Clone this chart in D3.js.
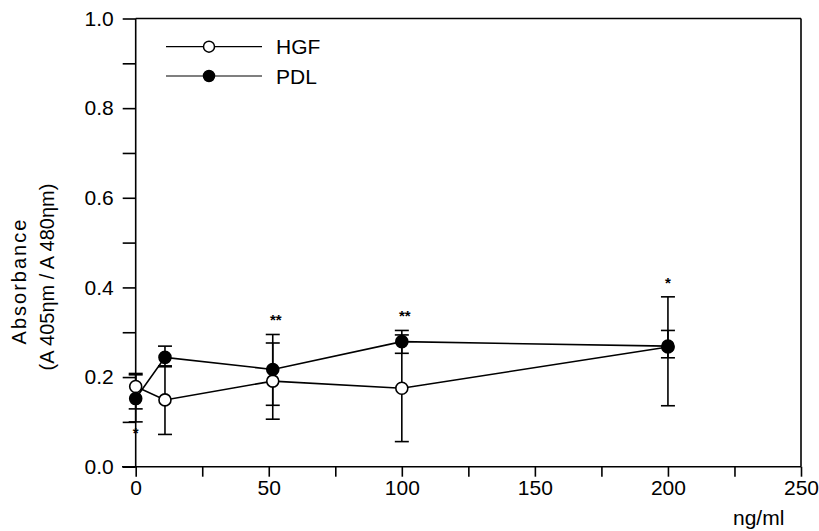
<!DOCTYPE html>
<html>
<head>
<meta charset="utf-8">
<script src="https://cdn.jsdelivr.net/npm/d3@7"></script>
<style>
  html, body { margin: 0; padding: 0; background: #fff; }
  svg { display: block; font-family: "Liberation Sans", Arial, Helvetica, sans-serif; }
</style>
</head>
<body>
<svg id="chart" width="819" height="531"></svg>
<script>
// ---- data ----
const doses    = [0, 11, 51.5, 100, 200];
const hgf      = [0.179, 0.149, 0.191, 0.175, 0.267];
const hgfLow   = [0.129, 0.072, 0.106, 0.056, 0.136];
const hgfHigh  = [0.208, 0.225, 0.276, 0.294, 0.379];
const pdl      = [0.152, 0.244, 0.217, 0.279, 0.269];
const pdlLow   = [0.100, 0.223, 0.137, 0.253, 0.243];
const pdlHigh  = [0.205, 0.269, 0.295, 0.304, 0.304];
const sigMarks = ["*", "", "**", "**", "*"];
const sigSide  = ["below", "", "above", "above", "above"];
const xTicks   = [0, 25, 50, 75, 100, 125, 150, 175, 200, 225, 250];
const xLabels  = [0, 50, 100, 150, 200, 250];
const yTicks   = [0, 0.1, 0.2, 0.3, 0.4, 0.5, 0.6, 0.7, 0.8, 0.9, 1.0];
const yLabels  = [0, 0.2, 0.4, 0.6, 0.8, 1.0];
const seriesNames = ["HGF", "PDL"];

const svg = d3.select("#chart");
const x = d3.scaleLinear().domain([0, 250]).range([135.7, 801]);
const y = d3.scaleLinear().domain([0, 1]).range([466.7, 18.5]);
const ink = "#000";
const font = "Liberation Sans, Arial, sans-serif";

// frame (top & right)
svg.append("line").attr("x1", x(0)).attr("x2", x(250)).attr("y1", y(1)).attr("y2", y(1))
  .attr("stroke", ink).attr("stroke-width", 1.6);
svg.append("line").attr("x1", x(250)).attr("x2", x(250)).attr("y1", y(1)).attr("y2", y(0))
  .attr("stroke", ink).attr("stroke-width", 1.6);

// x axis
const xAxis = d3.axisBottom(x).tickValues(xTicks).tickSize(10).tickPadding(3)
  .tickFormat(d => xLabels.includes(d) ? d3.format("d")(d) : "");
const gx = svg.append("g").attr("transform", `translate(0,${y(0)})`).call(xAxis);
gx.select(".domain").remove();
gx.append("line").attr("x1", 122).attr("x2", x(250)).attr("y1", 0).attr("y2", 0)
  .attr("stroke", ink).attr("stroke-width", 1.6);
gx.selectAll(".tick line").attr("stroke", ink).attr("stroke-width", 1.6);
gx.selectAll(".tick text").attr("fill", ink).style("font-size", "21px").style("font-family", font);

// y axis
const yAxis = d3.axisLeft(y).tickValues(yTicks).tickSize(13).tickPadding(9)
  .tickFormat(d => yLabels.some(v => Math.abs(v - d) < 1e-9) ? d3.format(".1f")(d) : "");
const gy = svg.append("g").attr("transform", `translate(${x(0)},0)`).call(yAxis);
gy.select(".domain").remove();
gy.append("line").attr("x1", 0).attr("x2", 0).attr("y1", y(1)).attr("y2", y(0))
  .attr("stroke", ink).attr("stroke-width", 1.6);
gy.selectAll(".tick line").attr("stroke", ink).attr("stroke-width", 1.6);
gy.selectAll(".tick text").attr("fill", ink).style("font-size", "21px").style("font-family", font);

// axis titles
svg.append("text").attr("transform", "translate(26,281) rotate(-90)")
  .attr("text-anchor", "middle").style("font-size", "20px").style("letter-spacing", "2px")
  .text("Absorbance");
svg.append("text").attr("transform", "translate(54,277) rotate(-90)")
  .attr("text-anchor", "middle").style("font-size", "20px").text("(A 405ηm / A 480ηm)");
svg.append("text").attr("x", 733).attr("y", 525).style("font-size", "21px").text("ng/ml");

// series
const series = [
  { name: seriesNames[0], vals: hgf, lo: hgfLow, hi: hgfHigh, fill: "#fff" },
  { name: seriesNames[1], vals: pdl, lo: pdlLow, hi: pdlHigh, fill: "#000" }
];
const capW = 7;
const line = d3.line().x(d => x(d[0])).y(d => y(d[1]));

series.forEach(s => {
  const g = svg.append("g");
  doses.forEach((d, i) => {
    g.append("line").attr("x1", x(d)).attr("x2", x(d)).attr("y1", y(s.lo[i])).attr("y2", y(s.hi[i]))
      .attr("stroke", ink).attr("stroke-width", 1.6);
    [s.lo[i], s.hi[i]].forEach(v => {
      g.append("line").attr("x1", x(d) - capW).attr("x2", x(d) + capW).attr("y1", y(v)).attr("y2", y(v))
        .attr("stroke", ink).attr("stroke-width", 1.6);
    });
  });
});
series.forEach(s => {
  svg.append("path").datum(doses.map((d, i) => [d, s.vals[i]])).attr("d", line)
    .attr("fill", "none").attr("stroke", ink).attr("stroke-width", 1.6);
});
series.forEach(s => {
  svg.append("g").selectAll("circle").data(doses).join("circle")
    .attr("cx", d => x(d)).attr("cy", (d, i) => y(s.vals[i])).attr("r", 6)
    .attr("fill", s.fill).attr("stroke", ink).attr("stroke-width", 1.6);
});

// significance marks
doses.forEach((d, i) => {
  if (!sigMarks[i]) return;
  const top = Math.max(hgfHigh[i], pdlHigh[i]);
  const bot = Math.min(hgfLow[i], pdlLow[i]);
  const yy = sigSide[i] === "above" ? y(top) - 9 : y(bot) + 16;
  svg.append("text").attr("x", x(d) + (sigMarks[i].length > 1 ? 3 : 0)).attr("y", yy)
    .attr("text-anchor", "middle").style("font-size", "15px").style("font-weight", "bold")
    .text(sigMarks[i]);
});

// legend
const legY = [46.7, 76];
series.forEach((s, i) => {
  const g = svg.append("g");
  g.append("line").attr("x1", 166).attr("x2", 262).attr("y1", legY[i]).attr("y2", legY[i])
    .attr("stroke", ink).attr("stroke-width", 1.2);
  g.append("circle").attr("cx", 209).attr("cy", legY[i]).attr("r", 5.5)
    .attr("fill", s.fill).attr("stroke", ink).attr("stroke-width", 1.5);
  g.append("text").attr("x", 276).attr("y", legY[i] + 7.5).style("font-size", "21px").text(s.name);
});
</script>
</body>
</html>
